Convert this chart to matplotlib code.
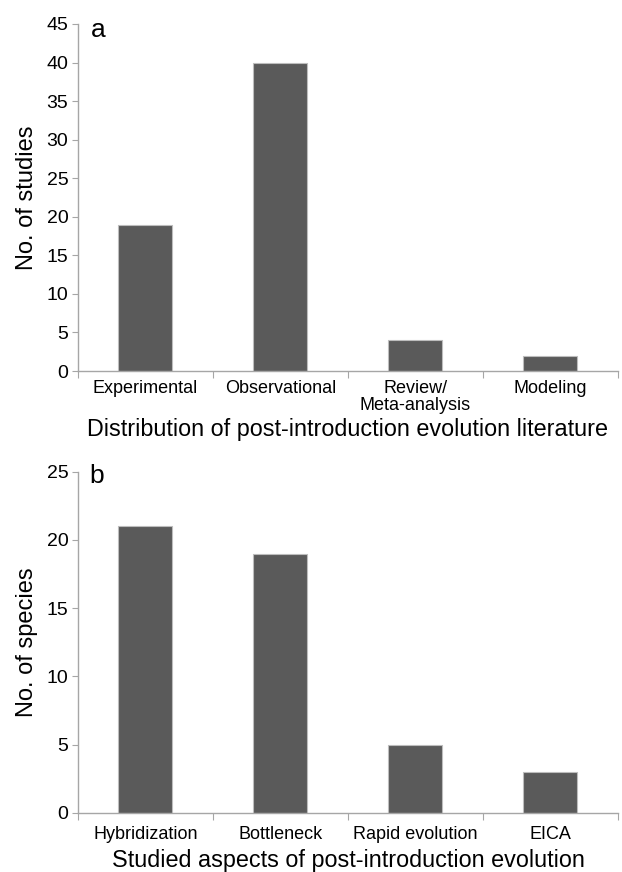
import matplotlib
matplotlib.use("Agg")
import matplotlib.pyplot as plt
import numpy as np

plt.rcParams['font.family'] = ['Liberation Sans', 'DejaVu Sans']

cats_a = ["Experimental", "Observational", "Review/\nMeta-analysis", "Modeling"]
vals_a = [19, 40, 4, 2]
cats_b = ["Hybridization", "Bottleneck", "Rapid evolution", "EICA"]
vals_b = [21, 19, 5, 3]

bar_color = "#5a5a5a"
spine_color = "#a6a6a6"

W, H = 622, 872
fig = plt.figure(figsize=(W / 100, H / 100), dpi=100)
ax1 = fig.add_axes([0.1254, 0.5745, 0.868, 0.398])
ax2 = fig.add_axes([0.1254, 0.068, 0.868, 0.391])

def style(ax, cats, vals, ymax, ystep, ylabel, xlabel, catpad, labpad):
    x = np.arange(len(cats))
    ax.bar(x, vals, width=0.4, color=bar_color, edgecolor="#bdbdbd", linewidth=0.8, zorder=2)
    ax.set_xlim(-0.5, len(cats) - 0.5)
    ax.set_ylim(0, ymax)
    ax.set_yticks(np.arange(0, ymax + 1, ystep))
    ax.set_xticks(np.arange(-0.5, len(cats), 1.0))
    ax.set_xticklabels([])
    ax.set_xticks(x, minor=True)
    ax.set_xticklabels(cats, minor=True, fontsize=13, linespacing=1.05)
    ax.tick_params(axis='x', which='minor', length=0, pad=catpad)
    ax.tick_params(axis='x', which='major', length=5, color=spine_color, direction='out')
    ax.tick_params(axis='y', length=4, color=spine_color, labelsize=14, pad=3)
    for s in ['top', 'right']:
        ax.spines[s].set_visible(False)
    for s in ['left', 'bottom']:
        ax.spines[s].set_color(spine_color)
        ax.spines[s].set_linewidth(1.0)
    ax.set_ylabel(ylabel, fontsize=17, labelpad=6)
    ax.set_xlabel(xlabel, fontsize=16.8, labelpad=labpad)

style(ax1, cats_a, vals_a, 45, 5, "No. of studies",
      "Distribution of post-introduction evolution literature", 6.2, 2.8)
style(ax2, cats_b, vals_b, 25, 5, "No. of species",
      "Studied aspects of post-introduction evolution", 9.5, 4.2)

fig.text(91 / W, 1 - 36.7 / H, "a", fontsize=19, va='baseline', ha='left')
fig.text(89 / W, 1 - 483 / H, "b", fontsize=19, va='baseline', ha='left')

fig.savefig("out.png", dpi=100)
